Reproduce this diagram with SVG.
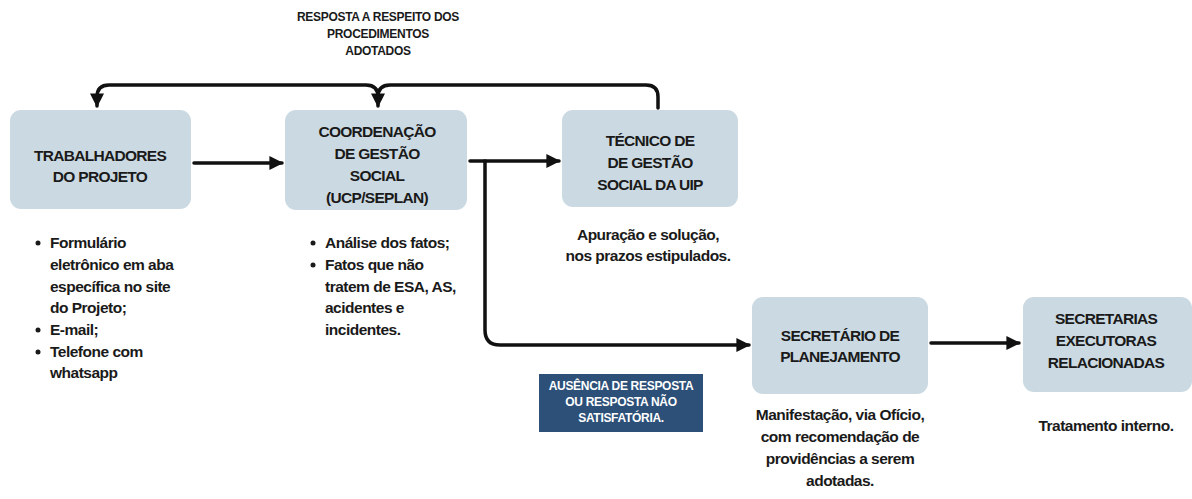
<svg xmlns="http://www.w3.org/2000/svg" width="1192" height="499" viewBox="0 0 1192 499">
<style>
.box{fill:#cbd9e2;}
.bt{font-family:"Liberation Sans",Arial,sans-serif;font-weight:bold;font-size:15.5px;fill:#1a1a1a;text-anchor:middle;letter-spacing:-0.7px;}
.nt{font-family:"Liberation Sans",Arial,sans-serif;font-weight:bold;font-size:15.5px;fill:#1a1a1a;letter-spacing:-0.5px;}
.ct{text-anchor:middle;}
.sm{font-family:"Liberation Sans",Arial,sans-serif;font-weight:bold;font-size:12px;fill:#1a1a1a;text-anchor:middle;letter-spacing:-0.3px;}
.wt{font-family:"Liberation Sans",Arial,sans-serif;font-weight:bold;font-size:12px;fill:#ffffff;text-anchor:middle;letter-spacing:-0.3px;}
.ln{fill:none;stroke:#111;stroke-width:3.5;stroke-linecap:round;stroke-linejoin:round;}
</style>
<defs>
<marker id="ah" viewBox="0 0 10 10" refX="9" refY="5" markerWidth="4" markerHeight="4" orient="auto" markerUnits="strokeWidth">
<path d="M0,0 L10,5 L0,10 z" fill="#111"/>
</marker>
</defs>
<rect width="1192" height="499" fill="#ffffff"/>

<g id="title">
<text class="sm" x="378" y="21">RESPOSTA A RESPEITO DOS</text>
<text class="sm" x="378" y="38">PROCEDIMENTOS</text>
<text class="sm" x="378" y="55">ADOTADOS</text>
</g>

<g id="connectors">
<path class="ln" d="M658,108 V97 Q658,85 646,85 H390 Q378,85 378,97 V106" marker-end="url(#ah)"/>
<path class="ln" d="M378,97 Q378,85 366,85 H109 Q97,85 97,97 V106" marker-end="url(#ah)"/>
<path class="ln" d="M194,163 H282" marker-end="url(#ah)"/>
<path class="ln" d="M470,161 H559" marker-end="url(#ah)"/>
<path class="ln" d="M485,161 V330 Q485,345 500,345 H749" marker-end="url(#ah)"/>
<path class="ln" d="M931,343 H1019" marker-end="url(#ah)"/>
</g>

<g id="n1">
<rect class="box" x="10" y="110" width="181" height="99" rx="11"/>
<text class="bt" x="100" y="161">TRABALHADORES</text>
<text class="bt" x="100" y="182">DO PROJETO</text>
</g>

<g id="n2">
<rect class="box" x="285" y="110" width="182" height="100" rx="11"/>
<text class="bt" x="377" y="137">COORDENAÇÃO</text>
<text class="bt" x="377" y="159">DE GESTÃO</text>
<text class="bt" x="377" y="181">SOCIAL</text>
<text class="bt" x="377" y="203">(UCP/SEPLAN)</text>
</g>

<g id="n3">
<rect class="box" x="562" y="110" width="176" height="97" rx="11"/>
<text class="bt" x="650" y="146">TÉCNICO DE</text>
<text class="bt" x="650" y="168">DE GESTÃO</text>
<text class="bt" x="650" y="190">SOCIAL DA UIP</text>
</g>

<g id="n4">
<rect class="box" x="752" y="297" width="176" height="97" rx="11"/>
<text class="bt" x="840" y="341">SECRETÁRIO DE</text>
<text class="bt" x="840" y="362">PLANEJAMENTO</text>
</g>

<g id="n5">
<rect class="box" x="1023" y="297" width="169" height="95" rx="11"/>
<text class="bt" x="1106" y="324">SECRETARIAS</text>
<text class="bt" x="1106" y="346">EXECUTORAS</text>
<text class="bt" x="1106" y="368">RELACIONADAS</text>
</g>

<g id="n6">
<rect x="539" y="374" width="164" height="58" fill="#2c5078"/>
<text class="wt" x="621" y="390">AUSÊNCIA DE RESPOSTA</text>
<text class="wt" x="621" y="406">OU RESPOSTA NÃO</text>
<text class="wt" x="621" y="422">SATISFATÓRIA.</text>
</g>

<g id="notes1">
<circle cx="38" cy="243" r="2.5" fill="#1a1a1a"/>
<circle cx="38" cy="330" r="2.5" fill="#1a1a1a"/>
<circle cx="38" cy="352" r="2.5" fill="#1a1a1a"/>
<text class="nt" x="50" y="248">Formulário</text>
<text class="nt" x="50" y="270">eletrônico em aba</text>
<text class="nt" x="50" y="292">específica no site</text>
<text class="nt" x="50" y="313">do Projeto;</text>
<text class="nt" x="50" y="335">E-mail;</text>
<text class="nt" x="50" y="357">Telefone com</text>
<text class="nt" x="50" y="378">whatsapp</text>
</g>

<g id="notes2">
<circle cx="313" cy="243" r="2.5" fill="#1a1a1a"/>
<circle cx="313" cy="265" r="2.5" fill="#1a1a1a"/>
<text class="nt" x="325" y="248">Análise dos fatos;</text>
<text class="nt" x="325" y="270">Fatos que não</text>
<text class="nt" x="325" y="292">tratem de ESA, AS,</text>
<text class="nt" x="325" y="313">acidentes e</text>
<text class="nt" x="325" y="335">incidentes.</text>
</g>

<g id="notes3">
<text class="nt ct" x="648" y="240">Apuração e solução,</text>
<text class="nt ct" x="648" y="261">nos prazos estipulados.</text>
</g>

<g id="notes4">
<text class="nt ct" x="840" y="420">Manifestação, via Ofício,</text>
<text class="nt ct" x="840" y="442">com recomendação de</text>
<text class="nt ct" x="840" y="464">providências a serem</text>
<text class="nt ct" x="840" y="486">adotadas.</text>
</g>

<g id="notes5">
<text class="nt ct" x="1106" y="431">Tratamento interno.</text>
</g>
</svg>
